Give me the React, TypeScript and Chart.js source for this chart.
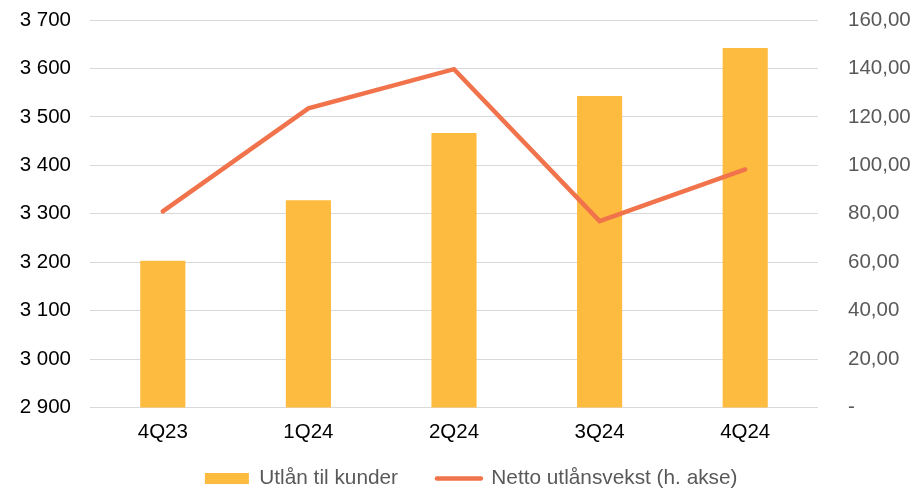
import React, { useEffect, useRef } from "react";
import { Chart, registerables } from "chart.js";

Chart.register(...registerables);

const categories = ["4Q23", "1Q24", "2Q24", "3Q24", "4Q24"];
const utlanValues = [3203, 3328, 3467, 3543, 3642];
const nettoValues = [81, 123.5, 139.7, 77, 98.3];
const leftTicks = [2900, 3000, 3100, 3200, 3300, 3400, 3500, 3600, 3700];
const rightTicks = [0, 20, 40, 60, 80, 100, 120, 140, 160];
const seriesNames = ["Utlån til kunder", "Netto utlånsvekst (h. akse)"];

const BAR_COLOR = "#FDBB40";
const LINE_COLOR = "#F1734B";
const FONT = "'Liberation Sans', Arial, sans-serif";
const AXIS_FONT = 20.5;
const LEGEND_FONT = 20.8;
const LEGEND_PAD = 38.9;
const LEGEND_SHIFT_X = 27.4;
const LEGEND_SHIFT_Y = 28.3;

function fmtLeft(v: number) {
  const th = Math.floor(v / 1000);
  const rest = String(Math.round(v % 1000)).padStart(3, "0");
  return th > 0 ? `${th} ${rest}` : rest;
}
function fmtRight(v: number) {
  if (v === 0) return "-";
  return v.toFixed(2).replace(".", ",");
}

const legendPlacement = {
  id: "legendPlacement",
  afterLayout(chart: any) {
    const lg = chart.legend;
    if (!lg) return;
    lg.left += LEGEND_SHIFT_X;
    lg.top -= LEGEND_SHIFT_Y;
    lg.bottom -= LEGEND_SHIFT_Y;
  },
};

export default function App() {
  const ref = useRef<HTMLCanvasElement | null>(null);
  useEffect(() => {
    if (!ref.current) return;
    const chart = new Chart(ref.current, {
      type: "bar",
      data: {
        labels: categories,
        datasets: [
          {
            type: "bar",
            label: seriesNames[0],
            data: utlanValues,
            backgroundColor: BAR_COLOR,
            yAxisID: "y",
            order: 2,
            categoryPercentage: 1,
            barPercentage: 0.31,
          },
          {
            type: "line",
            label: seriesNames[1],
            data: nettoValues,
            borderColor: LINE_COLOR,
            backgroundColor: LINE_COLOR,
            borderWidth: 4.5,
            borderCapStyle: "round",
            borderJoinStyle: "miter",
            pointRadius: 0,
            yAxisID: "y1",
            order: 1,
          },
        ] as any,
      },
      plugins: [legendPlacement],
      options: {
        animation: false,
        responsive: true,
        maintainAspectRatio: false,
        layout: { padding: { left: 0, right: 0, top: 20, bottom: -38.3 } },
        scales: {
          x: {
            grid: { display: false, drawTicks: false },
            border: { display: false },
            ticks: { color: "#000", font: { family: FONT, size: AXIS_FONT }, padding: 12.7 },
          },
          y: {
            position: "left",
            min: 2900,
            max: 3700,
            afterBuildTicks: (axis: any) => {
              axis.ticks = leftTicks.map((v) => ({ value: v }));
            },
            grid: { color: "#D9D9D9", lineWidth: 1, drawTicks: false },
            border: { display: false },
            ticks: {
              color: "#000",
              font: { family: FONT, size: AXIS_FONT },
              padding: 19,
              callback: (v: any) => fmtLeft(Number(v)),
            },
            afterFit: (s: any) => {
              s.width = 90;
              s.paddingTop = 0;
              s.paddingBottom = 0;
            },
          },
          y1: {
            position: "right",
            min: 0,
            max: 160,
            afterBuildTicks: (axis: any) => {
              axis.ticks = rightTicks.map((v) => ({ value: v }));
            },
            grid: { display: false, drawTicks: false },
            border: { display: false },
            ticks: {
              color: "#595959",
              font: { family: FONT, size: AXIS_FONT },
              padding: 30,
              callback: (v: any) => fmtRight(Number(v)),
            },
            afterFit: (s: any) => {
              s.width = 97;
              s.paddingTop = 0;
              s.paddingBottom = 0;
            },
          },
        },
        plugins: {
          tooltip: { enabled: false },
          legend: {
            position: "bottom",
            labels: {
              color: "#595959",
              font: { family: FONT, size: LEGEND_FONT },
              usePointStyle: true,
              boxWidth: 44,
              boxHeight: 11,
              pointStyleWidth: 44,
              padding: LEGEND_PAD,
              generateLabels: () => [
                {
                  text: seriesNames[0],
                  fillStyle: BAR_COLOR,
                  strokeStyle: BAR_COLOR,
                  lineWidth: 0,
                  pointStyle: "rect",
                  datasetIndex: 0,
                  fontColor: "#595959",
                } as any,
                {
                  text: seriesNames[1],
                  fillStyle: LINE_COLOR,
                  strokeStyle: LINE_COLOR,
                  lineWidth: 4.5,
                  lineCap: "round",
                  pointStyle: "line",
                  datasetIndex: 1,
                  fontColor: "#595959",
                } as any,
              ],
            },
          },
        },
      },
    });
    return () => chart.destroy();
  }, []);
  return (
    <div style={{ position: "fixed", left: 0, top: 0, width: 915, height: 489, background: "#fff" }}>
      <canvas ref={ref} />
    </div>
  );
}
